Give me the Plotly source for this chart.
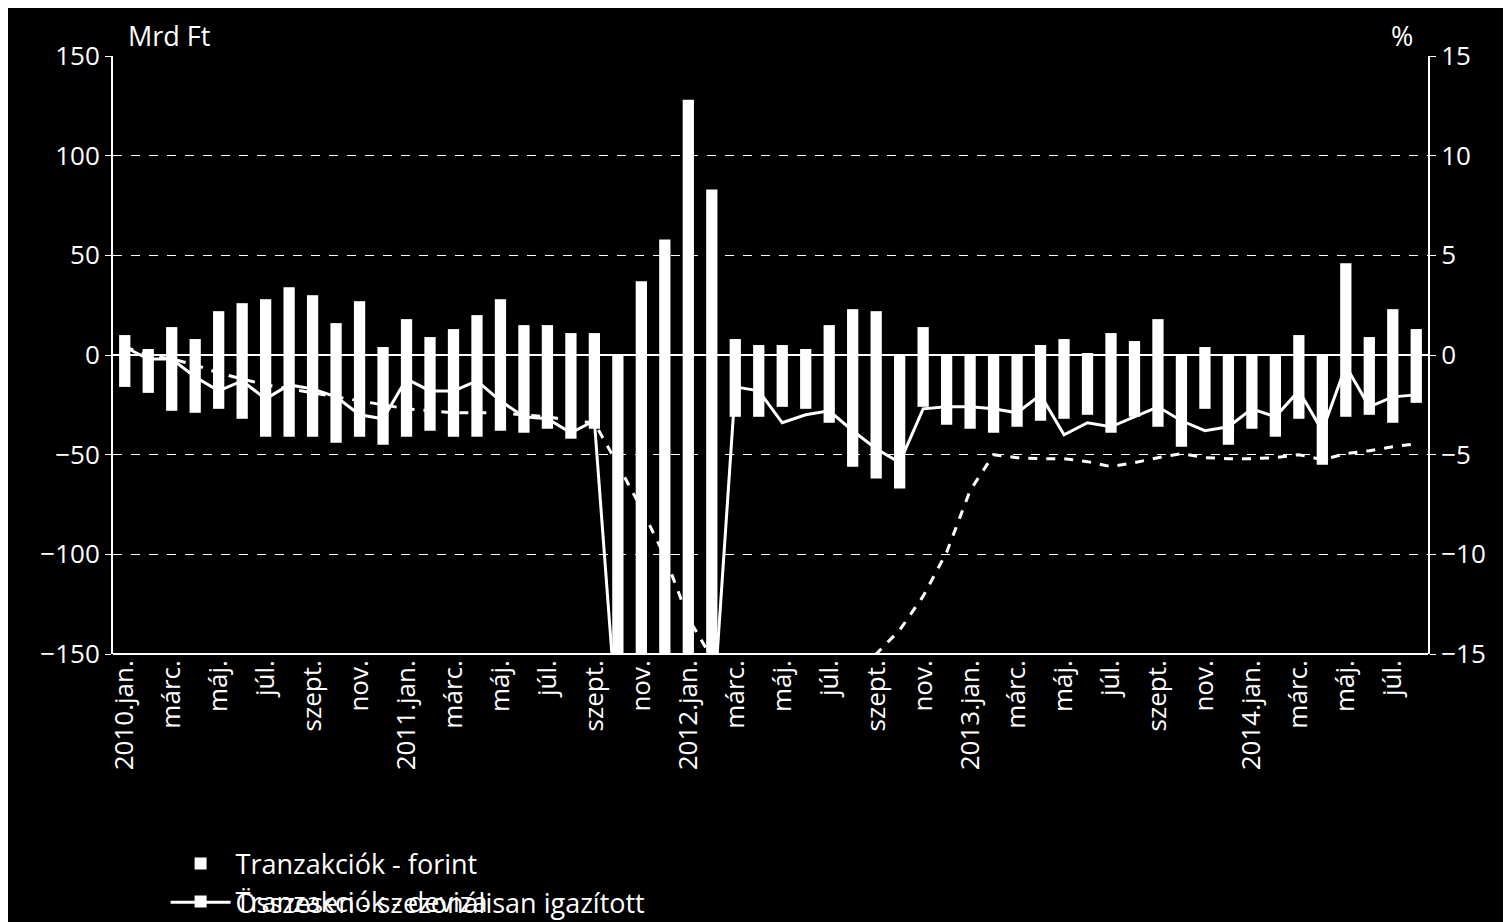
import plotly.graph_objects as go

months = ["jan.", "febr.", "márc.", "ápr.", "máj.", "jún.", "júl.", "aug.", "szept.", "okt.", "nov.", "dec."]
years = [2010, 2011, 2012, 2013, 2014]
x_cat = []
for yr in years:
    for i, m in enumerate(months):
        if yr == 2014 and i > 7:
            break
        x_cat.append(f"{yr}.{m}" if i == 0 else f"{m}{yr}")
x_labels = [(c if c.startswith("20") else c[:-4]) for c in x_cat]

forint = [10, 3, 14, 8, 22, 26, 28, 34, 30, 16, 27, 4,
          18, 9, 13, 20, 28, 15, 15, 11, 11, 0, 37, 58,
          128, 83, 8, 5, 5, 3, 15, 23, 22, 0, 14, 0, 0, 0,
          0, 5, 8, 1, 11, 7, 18, 0, 4, 0, 0, 0, 10, 0, 46, 9, 23, 13]
deviza = [-16, -19, -28, -29, -27, -32, -41, -41, -41, -44, -41, -45,
          -41, -38, -41, -41, -38, -39, -37, -42, -37, -230, -230, -230,
          -230, -230, -31, -31, -26, -27, -34, -56, -62, -67, -26, -35, -37, -39,
          -36, -33, -32, -30, -39, -31, -36, -46, -27, -45, -37, -41, -32, -55, -31, -30, -34, -24]
total_sa = [4, -2, -2, -11, -18, -13, -22, -15, -17, -21, -30, -32,
            -12, -18, -18, -13, -23, -31, -32, -39, -33, -190, -190, -190,
            -190, -190, -16, -18, -34, -30, -28, -38, -47, -54, -27, -26, -26, -27,
            -29, -20, -40, -34, -36, -31, -26, -33, -38, -36, -27, -31, -18, -38, -5.5, -26, -21, -20]
growth = [0.4, 0, -0.2, -0.5, -0.9, -1.2, -1.5, -1.7, -1.9, -2.1, -2.3, -2.5,
          -2.7, -2.8, -2.9, -2.9, -2.9, -3.0, -3.1, -3.3, -3.4, -5.5, -7.7, -10.1,
          -13.2, -15.2, -16.5, -17, -17.5, -17.5, -17, -16, -15, -13.8, -12.1, -9.9, -6.8, -5.0,
          -5.15, -5.2, -5.2, -5.35, -5.6, -5.4, -5.15, -4.95, -5.15, -5.2, -5.2, -5.15, -5.0, -5.25, -4.95, -4.8, -4.6, -4.45]

font = "Open Sans"
fig = go.Figure()
fig.add_trace(go.Bar(x=x_cat, y=forint, name="Tranzakciók - forint", marker=dict(color="white", line_width=0)))
fig.add_trace(go.Bar(x=x_cat, y=deviza, name="Tranzakciók - deviza", marker=dict(color="white", line_width=0)))
fig.add_trace(go.Scatter(x=x_cat, y=total_sa, name="Összesen - szezonálisan igazított", mode="lines",
                         line=dict(color="white", width=3), legend="legend2"))
fig.add_trace(go.Scatter(x=x_cat, y=growth, name="Éves növekedési ütem (jobb skála)", mode="lines",
                         line=dict(color="white", width=3, dash="dash"), yaxis="y2", legend="legend2"))

leg = dict(orientation="h", x=0.04, xanchor="left", yanchor="top", entrywidth=610,
           font=dict(size=27), traceorder="normal", bgcolor="rgba(0,0,0,0)", itemwidth=60)
fig.update_layout(
    width=1511, height=922, barmode="relative", bargap=0.52,
    paper_bgcolor="black", plot_bgcolor="black",
    font=dict(family=font, color="white", size=26),
    margin=dict(l=105, r=91, t=48, b=276, autoexpand=False),
    xaxis=dict(tickmode="array", tickvals=x_cat[::2], ticktext=x_labels[::2], tickangle=-90,
               showgrid=False, showline=False, ticks="", tickfont=dict(size=26)),
    yaxis=dict(range=[-150, 150], dtick=50, showgrid=True, gridcolor="white", griddash="dash", gridwidth=1,
               zeroline=True, zerolinecolor="white", zerolinewidth=2,
               showline=True, linecolor="white", linewidth=2, mirror=False,
               ticks="outside", tickcolor="white", ticklen=6),
    yaxis2=dict(range=[-15, 15], dtick=5, overlaying="y", side="right", showgrid=False, zeroline=False,
                showline=True, linecolor="white", linewidth=2, ticks="outside", tickcolor="white", ticklen=6),
    legend=dict(leg, y=-0.31),
    legend2=dict(leg, y=-0.375),
    shapes=[dict(type="line", xref="paper", yref="paper", x0=0, x1=1, y0=0, y1=0,
                 line=dict(color="white", width=2))],
    annotations=[
        dict(text="Mrd Ft", xref="paper", yref="paper", x=0.01, y=1.0, xanchor="left", yanchor="bottom",
             showarrow=False, font=dict(size=27)),
        dict(text="%", xref="paper", yref="paper", x=0.99, y=1.0, xanchor="right", yanchor="bottom",
             showarrow=False, font=dict(size=27)),
    ],
)
fig.write_html("out.html")
